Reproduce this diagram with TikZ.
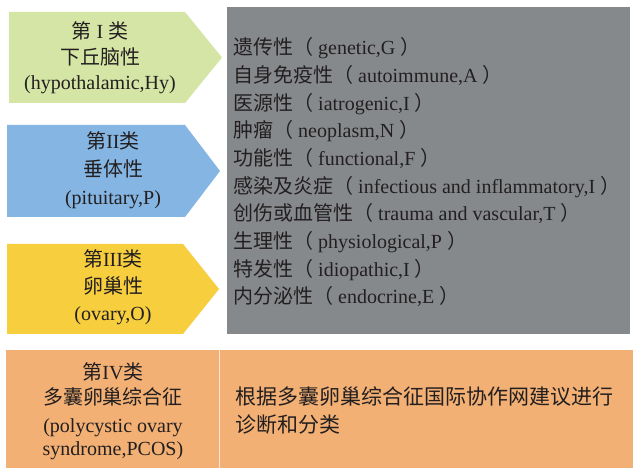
\documentclass[tikz,border=0pt]{standalone}
\usepackage{fontspec}
\setmainfont{Liberation Serif}
\newfontfamily\cjk{Noto Sans CJK SC}
\newcommand{\zh}[1]{{\cjk #1}}
\definecolor{cgreen}{HTML}{D5E5A5}
\definecolor{cblue}{HTML}{85B5E2}
\definecolor{cyellow}{HTML}{F6CE3E}
\definecolor{cgray}{HTML}{86898C}
\definecolor{corange}{HTML}{F2B074}
\definecolor{ctext}{HTML}{231F20}
\begin{document}
\begin{tikzpicture}[x=1pt,y=-1pt,
  lbl/.style={anchor=base,inner sep=0pt,text=ctext,font=\fontsize{20}{24}\selectfont},
  item/.style={anchor=base west,inner sep=0pt,text=ctext,font=\fontsize{20}{24}\selectfont}]
\useasboundingbox (0,0) rectangle (633,468);
\fill[white] (0,0) rectangle (633,468);
% arrows
\fill[cgreen] (9,12) -- (185,12) -- (222,57.5) -- (185,103) -- (9,103) -- cycle;
\fill[cblue] (7,125) -- (185,125) -- (220,171) -- (185,217) -- (7,217) -- cycle;
\fill[cyellow] (7,244) -- (183,244) -- (219,289) -- (183,334) -- (7,334) -- cycle;
% gray panel
\fill[cgray] (227,7) rectangle (630,334);
% orange box
\fill[corange] (6,350) rectangle (633,468);
\draw[white!70!corange,line width=1pt] (219,350) -- (219,468);
% arrow texts
\node[lbl] (a1) at (100,39) {\zh{第} I \zh{类}};
\node[lbl] (a2) at (100,65) {\zh{下丘脑性}};
\node[lbl] (a3) at (100,90) {(hypothalamic,Hy)};
\node[lbl] (b1) at (113,149) {\zh{第}II\zh{类}};
\node[lbl] (b2) at (113,177) {\zh{垂体性}};
\node[lbl] (b3) at (113,205) {(pituitary,P)};
\node[lbl] (c1) at (113,267) {\zh{第}III\zh{类}};
\node[lbl] (c2) at (113,294) {\zh{卵巢性}};
\node[lbl] (c3) at (113,320) {(ovary,O)};
% list
\node[item] (l1) at (233,55) {\zh{遗传性（} genetic,G \zh{）}};
\node[item] (l2) at (233,82.7) {\zh{自身免疫性（} autoimmune,A \zh{）}};
\node[item] (l3) at (233,110.3) {\zh{医源性（} iatrogenic,I \zh{）}};
\node[item] (l4) at (233,138) {\zh{肿瘤（} neoplasm,N \zh{）}};
\node[item] (l5) at (233,165.7) {\zh{功能性（} functional,F \zh{）}};
\node[item] (l6) at (233,193.3) {\zh{感染及炎症（} infectious and inflammatory,I \zh{）}};
\node[item] (l7) at (233,221) {\zh{创伤或血管性（} trauma and vascular,T \zh{）}};
\node[item] (l8) at (233,248.7) {\zh{生理性（} physiological,P \zh{）}};
\node[item] (l9) at (233,276.3) {\zh{特发性（} idiopathic,I \zh{）}};
\node[item] (l10) at (233,304) {\zh{内分泌性（} endocrine,E \zh{）}};
% orange texts
\node[lbl] (d1) at (113,379) {\zh{第}IV\zh{类}};
\node[lbl] (d2) at (113,405) {\zh{多囊卵巢综合征}};
\node[lbl] (d3) at (113,432) {(polycystic ovary};
\node[lbl] (d4) at (113,455) {syndrome,PCOS)};
\node[item,font=\fontsize{21}{24}\selectfont] (e1) at (235,405) {\zh{根据多囊卵巢综合征国际协作网建议进行}};
\node[item,font=\fontsize{21}{24}\selectfont] (e2) at (235,432) {\zh{诊断和分类}};
\end{tikzpicture}
\end{document}
